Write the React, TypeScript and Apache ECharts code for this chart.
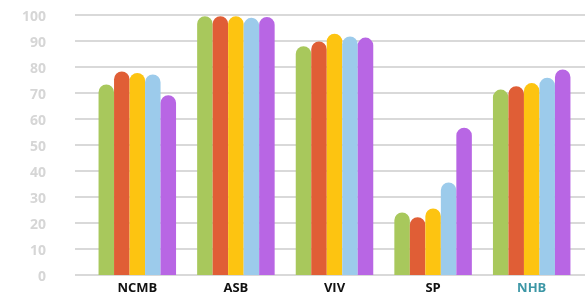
import React, { useEffect, useRef } from "react";
import * as echarts from "echarts";

const categories = ["NCMB", "ASB", "VIV", "SP", "NHB"];
const series1 = [73.3, 99.5, 88, 24, 71.3];
const series2 = [78.3, 99.5, 89.8, 22.2, 72.6];
const series3 = [77.7, 99.5, 92.8, 25.6, 73.8];
const series4 = [77.1, 98.9, 91.7, 35.6, 75.9];
const series5 = [69.1, 99.2, 91.3, 56.6, 79];
const seriesValues = [series1, series2, series3, series4, series5];
const colors = ["#a8c85c", "#e05e36", "#fdc411", "#9ccbeb", "#b866e4"];
const yTicks = { min: 0, max: 100, interval: 10 };

export default function App() {
  const ref = useRef<HTMLDivElement>(null);
  useEffect(() => {
    if (!ref.current) return;
    const chart = echarts.init(ref.current, undefined, { renderer: "svg" });
    chart.setOption({
      animation: false,
      grid: [
        { left: 88, right: 4, top: 15, bottom: 20 },
        { left: 75, right: 0, top: 15, bottom: 20 },
      ],
      xAxis: [
        {
          type: "category",
          gridIndex: 0,
          data: categories,
          axisLine: { show: false },
          axisTick: { show: false },
          axisLabel: {
            margin: 5,
            fontFamily: "Open Sans",
            fontWeight: "bold",
            fontSize: 13,
            lineHeight: 13,
            verticalAlign: "top",
            color: (v: string) => (v === "NHB" ? "#3d97a6" : "#111111"),
          },
        },
        { type: "value", gridIndex: 1, show: false },
      ],
      yAxis: [
        {
          type: "value",
          gridIndex: 0,
          ...yTicks,
          axisLabel: { show: false },
          axisLine: { show: false },
          axisTick: { show: false },
          splitLine: { show: false },
        },
        {
          type: "value",
          gridIndex: 1,
          ...yTicks,
          axisLine: { show: false },
          axisTick: { show: false },
          axisLabel: {
            margin: 29,
            fontFamily: "Open Sans",
            fontWeight: "bold",
            fontSize: 14,
            color: "#d6d6d6",
          },
          splitLine: { lineStyle: { color: "#d9d9d9", width: 2 } },
        },
      ],
      series: seriesValues.map((vals, i) => ({
        type: "bar",
        xAxisIndex: 0,
        yAxisIndex: 0,
        data: vals,
        barWidth: 15.5,
        barGap: "0%",
        itemStyle: { color: colors[i], borderRadius: [8, 8, 0, 0] },
      })),
    });
    return () => chart.dispose();
  }, []);
  return (
    <div style={{ position: "fixed", left: 0, top: 0 }}>
      <div ref={ref} style={{ width: 585, height: 295 }} />
    </div>
  );
}
